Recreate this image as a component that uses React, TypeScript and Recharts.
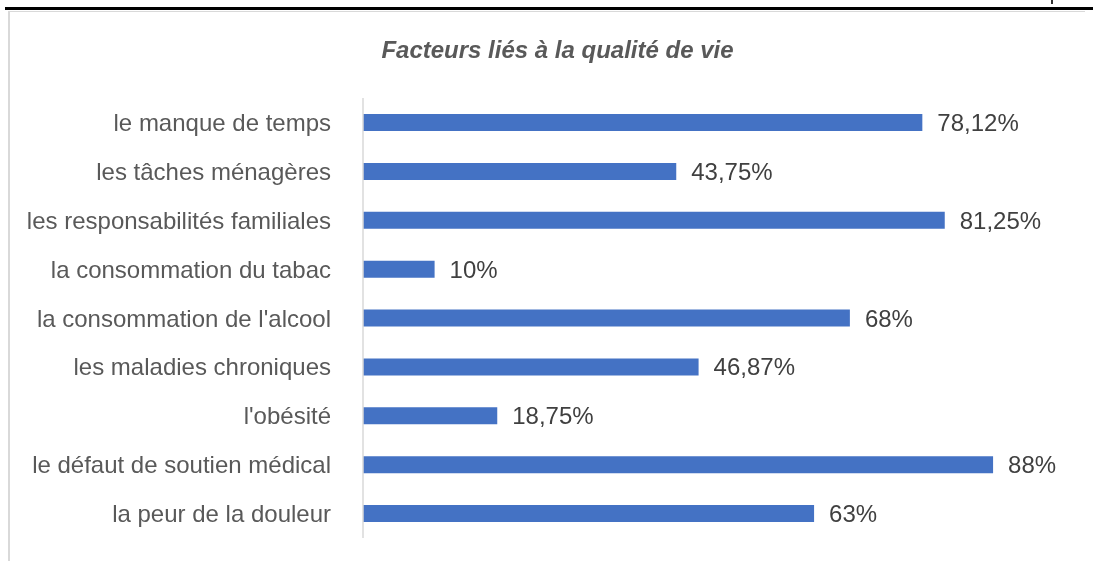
import { BarChart, Bar, XAxis, YAxis, LabelList } from "recharts";

const categories = [
  "le manque de temps",
  "les tâches ménagères",
  "les responsabilités familiales",
  "la consommation du tabac",
  "la consommation de l'alcool",
  "les maladies chroniques",
  "l'obésité",
  "le défaut de soutien médical",
  "la peur de la douleur",
];

const shares = [0.7812, 0.4375, 0.8125, 0.1, 0.68, 0.4687, 0.1875, 0.88, 0.63];

const data = categories.map((name, i) => ({ name, value: shares[i] }));

const FONT = '"Liberation Sans", Arial, sans-serif';

// 0.4375 -> "43,75%", 0.1 -> "10%"
const pct = (v: number) => String(Number((v * 100).toFixed(2))).replace(".", ",") + "%";

export default function App() {
  return (
    <div style={{ position: "relative", width: 1077, height: 553, fontFamily: FONT }}>
      {/* page rule above the figure */}
      <div style={{ position: "fixed", left: 5, right: 0, top: 7, height: 3, background: "#000" }} />
      <div style={{ position: "fixed", left: 1051, top: 0, width: 2, height: 4, background: "#333" }} />
      <div
        style={{
          position: "absolute",
          left: 0,
          top: 3,
          right: 0,
          bottom: 0,
          borderLeft: "2px solid #d9d9d9",
          borderTop: "1px solid #d9d9d9",
        }}
      />
      <div
        style={{
          position: "absolute",
          left: 0,
          width: 1099,
          top: 28,
          textAlign: "center",
          fontSize: 24,
          fontWeight: "bold",
          fontStyle: "italic",
          color: "#595959",
          lineHeight: "28px",
        }}
      >
        Facteurs liés à la qualité de vie
      </div>
      <div style={{ position: "absolute", left: 0, top: 0 }}>
        <BarChart
          width={1077}
          height={553}
          data={data}
          layout="vertical"
          margin={{ top: 90, right: 6, bottom: 23, left: 0 }}
        >
          <XAxis type="number" domain={[0, 1]} hide />
          <YAxis
            type="category"
            dataKey="name"
            width={355}
            tickLine={false}
            tickSize={0}
            tickMargin={32}
            axisLine={{ stroke: "#d9d9d9", strokeWidth: 1.5 }}
            tick={{ fill: "#595959", fontSize: 24, fontFamily: FONT }}
            interval={0}
          />
          <Bar dataKey="value" fill="#4472c4" barSize={17} isAnimationActive={false}>
            <LabelList
              dataKey="value"
              position="right"
              offset={15}
              formatter={(v: any) => pct(Number(v))}
              style={{ fill: "#404040", fontSize: 24, fontFamily: FONT }}
            />
          </Bar>
        </BarChart>
      </div>
    </div>
  );
}
